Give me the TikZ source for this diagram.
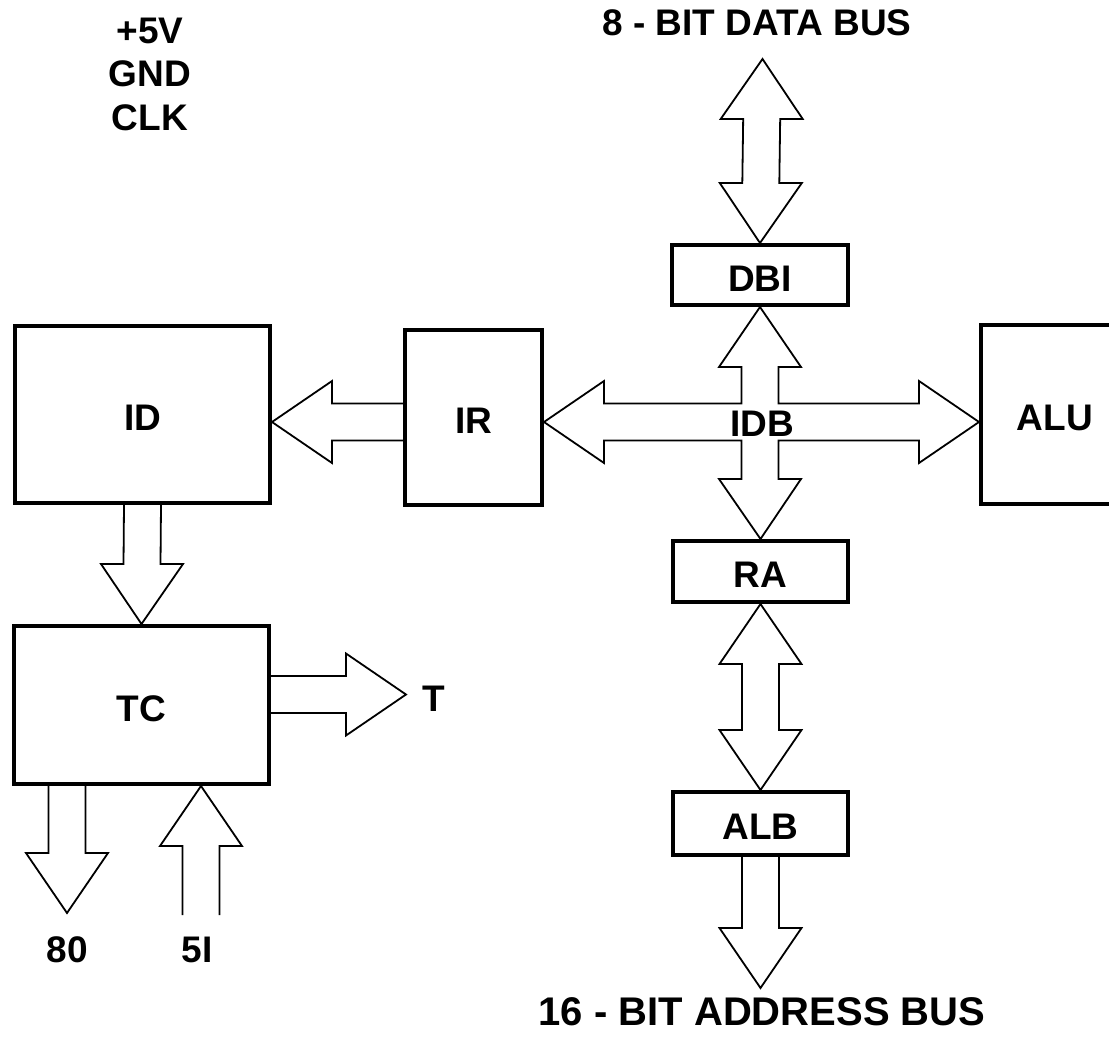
\documentclass[tikz,border=0pt]{standalone}
\usepackage{fontspec}
\setmainfont{Liberation Sans}
\usetikzlibrary{calc}
% vertical single block arrow: tail #1, tip #2
\newcommand{\vone}[2]{%
  \draw[busline] ($(#1)+(-18.5pt,0pt)$)
    -- ($(#2)!60pt!(#1)+(-18.5pt,0pt)$)
    -- ($(#2)!60pt!(#1)+(-41pt,0pt)$)
    -- (#2)
    -- ($(#2)!60pt!(#1)+(41pt,0pt)$)
    -- ($(#2)!60pt!(#1)+(18.5pt,0pt)$)
    -- ($(#1)+(18.5pt,0pt)$);}
% horizontal single block arrow: tail #1, tip #2
\newcommand{\hone}[2]{%
  \draw[busline] ($(#1)+(0pt,-18.5pt)$)
    -- ($(#2)!60pt!(#1)+(0pt,-18.5pt)$)
    -- ($(#2)!60pt!(#1)+(0pt,-41pt)$)
    -- (#2)
    -- ($(#2)!60pt!(#1)+(0pt,41pt)$)
    -- ($(#2)!60pt!(#1)+(0pt,18.5pt)$)
    -- ($(#1)+(0pt,18.5pt)$);}
% vertical double block arrow between #1 and #2
\newcommand{\vtwo}[2]{%
  \draw[busline] (#1)
    -- ($(#1)!60pt!(#2)+(-41pt,0pt)$)
    -- ($(#1)!60pt!(#2)+(-18.5pt,0pt)$)
    -- ($(#2)!60pt!(#1)+(-18.5pt,0pt)$)
    -- ($(#2)!60pt!(#1)+(-41pt,0pt)$)
    -- (#2)
    -- ($(#2)!60pt!(#1)+(41pt,0pt)$)
    -- ($(#2)!60pt!(#1)+(18.5pt,0pt)$)
    -- ($(#1)!60pt!(#2)+(18.5pt,0pt)$)
    -- ($(#1)!60pt!(#2)+(41pt,0pt)$)
    -- cycle;}
\tikzset{
  txt/.style={font=\bfseries\fontsize{37}{43.5}\selectfont, inner sep=0pt},
  blk/.style={draw, line width=4pt, inner sep=0pt, text height=32.5pt, text depth=0pt,
    font=\bfseries\fontsize{37}{43.5}\selectfont},
  busline/.style={line width=1.8pt, line join=miter}
}
\begin{document}
\begin{tikzpicture}[x=1pt,y=-1pt]
\useasboundingbox (0,0) rectangle (1109,1045);
\clip (0,0) rectangle (1109,1045);
\fill[white] (0,0) rectangle (1109,1045);

% boxes
\node[blk, minimum width=255pt, minimum height=177pt] (ID) at (142.5,414.5) {ID};
\node[blk, minimum width=137pt, minimum height=175pt] (IR) at (473.5,417.5) {IR};
\node[blk, minimum width=255pt, minimum height=158pt] (TC) at (141.5,705) {TC};
\node[blk, minimum width=176pt, minimum height=60pt] (DBI) at (760,275) {DBI};
\node[blk, minimum width=175pt, minimum height=61pt] (RA) at (760.5,571.5) {RA};
\node[blk, minimum width=175pt, minimum height=63pt] (ALB) at (760.5,823.5) {ALB};
\node[blk, minimum width=148pt, minimum height=179pt] (ALU) at (1055,414.5) {ALU};

% labels
\node[txt, anchor=base, align=center] (pwr) at (150,130) {+5V\\GND\\CLK};
\node[txt, anchor=base] (dbus) at (757,35) {8 - BIT DATA BUS};
\node[txt, anchor=base, font=\bfseries\fontsize{40}{44}\selectfont] (abus) at (762,1025) {16 - BIT ADDRESS BUS};
\node[txt] (T) at (434,699) {T};
\node[txt] (o80) at (67.5,950) {80};
\node[txt] (i5) at (197,950) {5I};

% free ends
\coordinate (bus) at (762.5,422);
\coordinate (dtop) at (762.5,59);
\coordinate (abot) at (760.5,988);
\coordinate (Ttip) at (406,694.5);
\coordinate (o80tip) at (67,913);
\coordinate (i5tail) at (201,915);

% bus arrows
\vtwo{dtop}{DBI.north}
\vtwo{RA.south}{ALB.north}
\vone{ALB.south}{abot}
\hone{IR.west |- bus}{ID.east |- bus}
\vone{ID.south}{TC.north}
\hone{TC.east |- Ttip}{Ttip}
\vone{TC.south -| o80tip}{o80tip}
\vone{i5tail}{TC.south -| i5tail}

% internal data bus cross
\draw[busline] let \p1=(DBI.south), \p2=(RA.north), \p3=(IR.east |- bus), \p4=(ALU.west |- bus), \p0=(bus) in
  (\p1) -- (\x1+41pt,\y1-60pt) -- (\x1+18.5pt,\y1-60pt) -- (\x1+18.5pt,\y0+18.5pt)
  -- (\x4-60pt,\y0+18.5pt) -- (\x4-60pt,\y0+41pt) -- (\x4,\y0) -- (\x4-60pt,\y0-41pt) -- (\x4-60pt,\y0-18.5pt)
  -- (\x1+18.5pt,\y0-18.5pt) -- (\x1+18.5pt,\y2+60pt) -- (\x1+41pt,\y2+60pt) -- (\p2)
  -- (\x1-41pt,\y2+60pt) -- (\x1-18.5pt,\y2+60pt) -- (\x1-18.5pt,\y0-18.5pt)
  -- (\x3+60pt,\y0-18.5pt) -- (\x3+60pt,\y0-41pt) -- (\x3,\y0) -- (\x3+60pt,\y0+41pt) -- (\x3+60pt,\y0+18.5pt)
  -- (\x1-18.5pt,\y0+18.5pt) -- (\x1-18.5pt,\y1-60pt) -- (\x1-41pt,\y1-60pt) -- cycle;
\node[txt] (IDB) at (762.5,424) {IDB};
\end{tikzpicture}
\end{document}
